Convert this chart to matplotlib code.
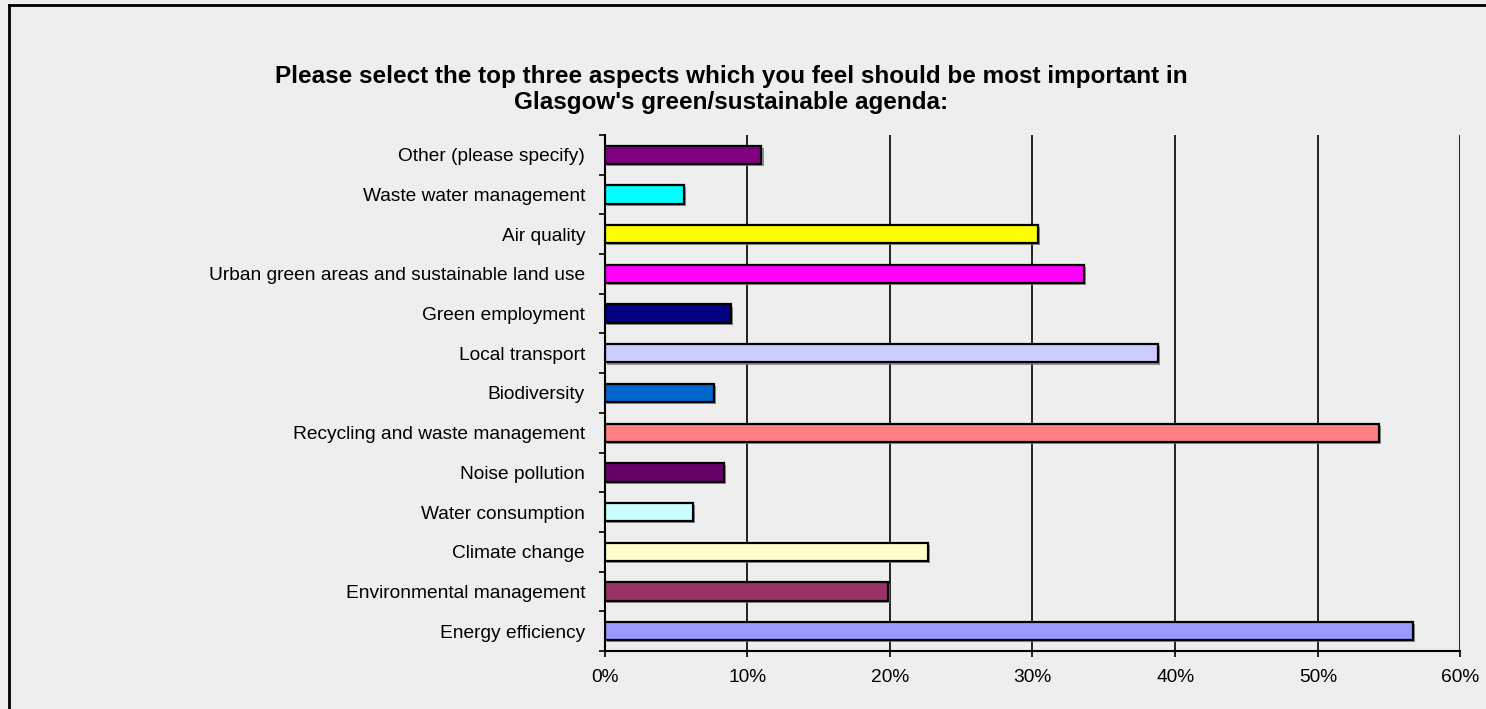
import matplotlib.pyplot as plt
import matplotlib.patheffects as pe
from matplotlib.lines import Line2D
from matplotlib.ticker import FixedLocator, PercentFormatter

plt.rcParams['font.family'] = ['Liberation Sans', 'DejaVu Sans']

# Categories from bottom to top
categorias = ['Energy efficiency', 'Environmental management', 'Climate change',
              'Water consumption', 'Noise pollution', 'Recycling and waste management',
              'Biodiversity', 'Local transport', 'Green employment',
              'Urban green areas and sustainable land use', 'Air quality',
              'Waste water management', 'Other (please specify)']
valores = [56.7, 19.9, 22.7, 6.2, 8.4, 54.3, 7.7, 38.8, 8.85, 33.6, 30.4, 5.6, 11.0]
cores = ['#9999FF', '#993366', '#FFFFCC', '#CCFFFF', '#660066', '#FF8080',
         '#0066CC', '#CCCCFF', '#000080', '#FF00FF', '#FFFF00', '#00FFFF', '#800080']
ticks_x = [0, 10, 20, 30, 40, 50, 60]

fundo = '#EEEEEE'
fig = plt.figure(figsize=(14.86, 7.09), dpi=100, facecolor=fundo)
ax = fig.add_axes([0.4068, 0.0818, 0.576, 0.7278], facecolor=fundo)

posicoes = list(range(len(categorias)))
barras = ax.barh(posicoes, valores, height=0.46, color=cores, edgecolor='black',
                 linewidth=1.6, zorder=3)
for b in barras:
    b.set_path_effects([pe.SimplePatchShadow(offset=(1.5, -1.5), shadow_rgbFace='#777777', alpha=0.8),
                        pe.Normal()])

ax.set_xlim(0, 60)
ax.set_ylim(-0.5, len(categorias) - 0.5)
ax.set_xticks(ticks_x)
ax.xaxis.set_major_formatter(PercentFormatter(decimals=0))
ax.grid(axis='x', color='black', linewidth=1.2, zorder=1)

ax.set_yticks(posicoes)
ax.set_yticklabels(categorias)
ax.yaxis.set_minor_locator(FixedLocator([p - 0.5 for p in posicoes] + [len(categorias) - 0.5]))
ax.tick_params(axis='y', which='major', length=0, pad=14, labelsize=13.8)
ax.tick_params(axis='y', which='minor', length=4, width=1.2, color='black')
ax.tick_params(axis='x', which='major', length=4, width=1.2, pad=9, labelsize=13.8)

for lado in ['top', 'right']:
    ax.spines[lado].set_visible(False)
for lado in ['left', 'bottom']:
    ax.spines[lado].set_linewidth(1.5)
    ax.spines[lado].set_zorder(4)

fig.text(0.492, 0.874, "Please select the top three aspects which you feel should be most important in\n"
         "Glasgow's green/sustainable agenda:", ha='center', va='center',
         fontsize=17.5, fontweight='bold', linespacing=1.15)

# moldura do grafico
fig.add_artist(Line2D([8.5 / 1486, 8.5 / 1486], [0, 1 - 5 / 709], color='black', linewidth=2,
                      transform=fig.transFigure))
fig.add_artist(Line2D([8.5 / 1486, 1], [1 - 5 / 709, 1 - 5 / 709], color='black', linewidth=2,
                      transform=fig.transFigure))

fig.savefig('out.png', dpi=100, facecolor=fundo)
